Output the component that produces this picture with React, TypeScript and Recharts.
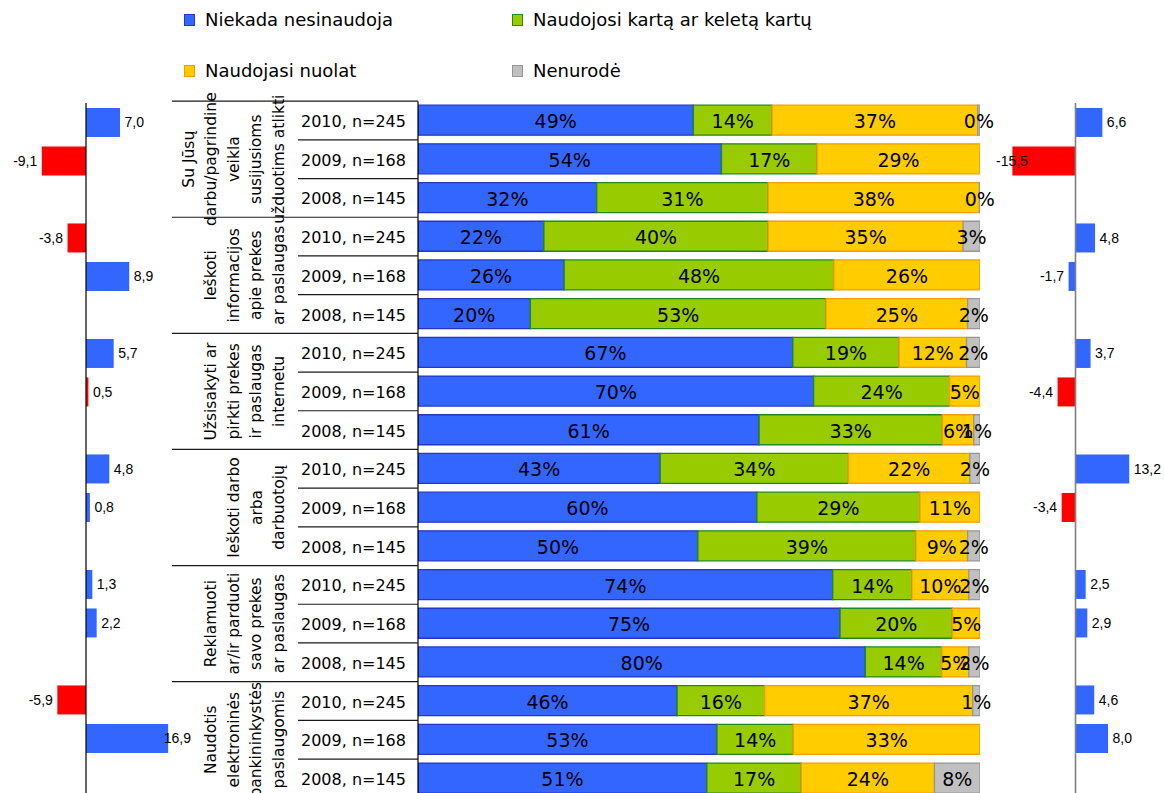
import React from 'react';
import { BarChart, Bar, XAxis, YAxis, LabelList, Cell, ReferenceLine } from 'recharts';

// ---------- DATA ----------
const groupLabels: string[][] = [
  ['Su Jūsų', 'darbu/pagrindine', 'veikla', 'susijusioms', 'užduotims atlikti'],
  ['Ieškoti', 'informacijos', 'apie prekes', 'ar paslaugas'],
  ['Užsisakyti ar', 'pirkti prekes', 'ir paslaugas', 'internetu'],
  ['Ieškoti darbo', 'arba', 'darbuotojų'],
  ['Reklamuoti', 'ar/ir parduoti', 'savo prekes', 'ar paslaugas'],
  ['Naudotis', 'elektroninės', 'bankininkystės', 'paslaugomis'],
];
const yearLabels = ['2010, n=245', '2009, n=168', '2008, n=145'];

const seriesNames = ['Niekada nesinaudoja', 'Naudojosi kartą ar keletą kartų', 'Naudojasi nuolat', 'Nenurodė'];

const neverUsed = [49, 54, 31.8, 22.4, 26, 20, 66.7, 70.4, 60.7, 43.1, 60.3, 49.8, 73.8, 75.1, 79.6, 46.1, 53.2, 51.4];
const usedOnce = [14, 17, 30.5, 39.9, 48, 52.6, 18.9, 24.2, 32.6, 33.5, 29.0, 38.8, 14.1, 20.0, 13.6, 15.6, 13.6, 16.8];
const usedConstantly = [36.6, 29, 37.6, 34.7, 26, 25.2, 12.0, 5.4, 5.6, 21.6, 10.7, 9.2, 10.1, 4.9, 4.8, 37.0, 33.2, 23.7];
const notSpecified: (number | null)[] = [0.4, null, 0.1, 3.0, null, 2.2, 2.4, null, 1.1, 1.8, null, 2.2, 2.0, null, 2.0, 1.3, null, 8.1];

const leftChange: (number | null)[] = [7.0, -9.1, null, -3.8, 8.9, null, 5.7, 0.5, null, 4.8, 0.8, null, 1.3, 2.2, null, -5.9, 16.9, null];
const leftFlag: boolean[] = [false, true, false, true, false, false, false, true, false, false, false, false, false, false, false, true, false, false];
const rightChange: (number | null)[] = [6.6, -15.5, null, 4.8, -1.7, null, 3.7, -4.4, null, 13.2, -3.4, null, 2.5, 2.9, null, 4.6, 8.0, null];
const rightFlag: boolean[] = [false, true, false, false, false, false, false, true, false, false, true, false, false, false, false, false, false, false];

// ---------- BUILD ----------
const rowKeys = groupLabels.flatMap((_, gi) => yearLabels.map((__, yi) => `${gi}-${yi}`));
const mainData = rowKeys.map((key, i) => ({
  key,
  never: neverUsed[i],
  once: usedOnce[i],
  constant: usedConstantly[i],
  none: notSpecified[i],
}));
const leftData = rowKeys.map((key, i) => ({ key, v: leftChange[i] }));
const rightData = rowKeys.map((key, i) => ({ key, v: rightChange[i] }));

// ---------- STYLE ----------
const BLUE = '#3366ff';
const RED = '#ff0000';
const fills = ['#3366ff', '#99cc00', '#ffcc00', '#c0c0c0'];
const strokes = ['#2635c8', '#1f8a1f', '#ff9900', '#969696'];
const DEJAVU = '"DejaVu Sans", Verdana, sans-serif';
const ARIAL = '"Liberation Sans", Arial, sans-serif';

const MAIN_W = 860;
const MAIN_H = 800;
const MAIN_TOP = 101.15;
const ROWS = 18;
const MAIN_BAND = 38.7;
const MAIN_PLOT_H = ROWS * MAIN_BAND;

const SIDE_TOP = 102.95;
const SIDE_BAND = 38.5;
const SIDE_PLOT_H = ROWS * SIDE_BAND;

const MainLabel = (props: any) => {
  const { x, y, width, height, value } = props;
  if (value == null) return null;
  return (
    <text
      x={Number(x) + Number(width) / 2}
      y={Number(y) + Number(height) / 2 + 1}
      textAnchor="middle"
      dominantBaseline="central"
      fontSize={19}
      fontFamily={DEJAVU}
      fill="#000"
    >
      {Math.round(Number(value))}%
    </text>
  );
};

const FS_SIDE = 14;
const charW = (s: string) =>
  s.split('').reduce((a, c) => a + (c === ',' ? 0.278 : c === '-' ? 0.333 : 0.556), 0) * FS_SIDE;

const makeSideLabel = (minX: number, maxX: number) => (props: any) => {
  const { x, y, width, height, value } = props;
  if (value == null) return null;
  const v = Number(value);
  const x0 = Number(x);
  const w = Number(width);
  const left = Math.min(x0, x0 + w);
  const right = Math.max(x0, x0 + w);
  const text = v.toFixed(1).replace('.', ',');
  const tw = charW(text);
  const cy = Number(y) + Number(height) / 2;
  let tx: number;
  let anchor: 'start' | 'end';
  if (v >= 0) {
    tx = right + 4.5;
    anchor = 'start';
    if (tx + tw > maxX) {
      tx = maxX;
      anchor = 'end';
    }
  } else {
    tx = left - 4.5;
    anchor = 'end';
    if (tx - tw < minX) {
      tx = minX;
      anchor = 'start';
    }
  }
  return (
    <text x={tx} y={cy} textAnchor={anchor} dominantBaseline="central" fontSize={FS_SIDE} fontFamily={ARIAL} fill="#000">
      {text}
    </text>
  );
};

const TableTick = (props: any) => {
  const { x, y, index } = props;
  const xi = Number(x);
  const yi = Number(y);
  const gi = Math.floor(index / 3);
  const yr = index % 3;
  const groupStartX = xi - 246;
  const rowStartX = xi - 120;
  const els: React.ReactNode[] = [];
  if (index === 0) {
    els.push(<line key="top" x1={groupStartX} x2={xi} y1={yi - MAIN_BAND / 2} y2={yi - MAIN_BAND / 2} stroke="#1a1a1a" strokeWidth={1.2} />);
  }
  els.push(
    <line
      key="bot"
      x1={yr === 2 ? groupStartX : rowStartX}
      x2={xi}
      y1={yi + MAIN_BAND / 2}
      y2={yi + MAIN_BAND / 2}
      stroke="#1a1a1a"
      strokeWidth={1.2}
    />
  );
  els.push(
    <text key="yr" x={xi - 64.5} y={yi + 1} textAnchor="middle" dominantBaseline="central" fontSize={16} fontFamily={DEJAVU} fill="#000">
      {yearLabels[yr]}
    </text>
  );
  if (yr === 1) {
    const lines = groupLabels[gi];
    const n = lines.length;
    lines.forEach((ln, j) => {
      const lx = xi - 139 - (n - 1 - j) * 22.5;
      els.push(
        <text
          key={`g${j}`}
          x={lx}
          y={yi}
          transform={`rotate(-90 ${lx} ${yi})`}
          textAnchor="middle"
          dominantBaseline="central"
          fontSize={15.5}
          fontFamily={DEJAVU}
          fill="#000"
        >
          {ln}
        </text>
      );
    });
  }
  return <g>{els}</g>;
};

const LegendBox = ({ left, top, idx }: { left: number; top: number; idx: number }) => (
  <div style={{ position: 'absolute', left, top, display: 'flex', alignItems: 'center', whiteSpace: 'nowrap' }}>
    <div
      style={{
        width: 9,
        height: 10,
        background: fills[idx],
        border: `1.5px solid ${strokes[idx]}`,
        marginRight: 10,
      }}
    />
    <span style={{ fontFamily: DEJAVU, fontSize: 18, color: '#000', lineHeight: '22px' }}>{seriesNames[idx]}</span>
  </div>
);

export default function App() {
  return (
    <div style={{ position: 'absolute', left: 0, top: 0, width: 1164, height: 793, overflow: 'hidden', background: '#fff' }}>
      <LegendBox left={184} top={9} idx={0} />
      <LegendBox left={512} top={9} idx={1} />
      <LegendBox left={184} top={60} idx={2} />
      <LegendBox left={512} top={60} idx={3} />

      {/* Left change chart */}
      <div style={{ position: 'absolute', left: 0, top: 0 }}>
        <BarChart
          width={200}
          height={800}
          data={leftData}
          layout="vertical"
          margin={{ top: SIDE_TOP, right: 28, bottom: 800 - SIDE_TOP - SIDE_PLOT_H, left: 0 }}
          barSize={29}
        >
          <XAxis type="number" domain={[-17.7, 17.7]} allowDataOverflow hide />
          <YAxis type="category" dataKey="key" hide />
          <Bar dataKey="v" isAnimationActive={false}>
            {leftData.map((d, i) => (
              <Cell key={d.key} fill={leftFlag[i] ? RED : BLUE} />
            ))}
            <LabelList dataKey="v" content={makeSideLabel(0, 191)} />
          </Bar>
          <ReferenceLine x={0} stroke="#000" strokeWidth={1.2} />
        </BarChart>
      </div>

      {/* Main stacked chart with table */}
      <div style={{ position: 'absolute', left: 160, top: 0 }}>
        <BarChart
          width={MAIN_W}
          height={MAIN_H}
          data={mainData}
          layout="vertical"
          margin={{ top: MAIN_TOP, right: MAIN_W - 820, bottom: MAIN_H - MAIN_TOP - MAIN_PLOT_H, left: 0 }}
          barSize={30}
        >
          <XAxis type="number" domain={[0, 100]} allowDataOverflow hide />
          <YAxis
            type="category"
            dataKey="key"
            width={258}
            interval={0}
            tickLine={false}
            tickSize={0}
            tickMargin={0}
            axisLine={{ stroke: '#000', strokeWidth: 1.2 }}
            tick={<TableTick />}
          />
          <Bar dataKey="never" stackId="s" fill={fills[0]} stroke={strokes[0]} strokeWidth={1.3} isAnimationActive={false}>
            <LabelList dataKey="never" content={MainLabel} />
          </Bar>
          <Bar dataKey="once" stackId="s" fill={fills[1]} stroke={strokes[1]} strokeWidth={1.3} isAnimationActive={false}>
            <LabelList dataKey="once" content={MainLabel} />
          </Bar>
          <Bar dataKey="constant" stackId="s" fill={fills[2]} stroke={strokes[2]} strokeWidth={1.3} isAnimationActive={false}>
            <LabelList dataKey="constant" content={MainLabel} />
          </Bar>
          <Bar dataKey="none" stackId="s" fill={fills[3]} stroke={strokes[3]} strokeWidth={1.3} isAnimationActive={false}>
            <LabelList dataKey="none" content={MainLabel} />
          </Bar>
        </BarChart>
      </div>

      {/* Right change chart */}
      <div style={{ position: 'absolute', left: 990, top: 0 }}>
        <BarChart
          width={174}
          height={800}
          data={rightData}
          layout="vertical"
          margin={{ top: SIDE_TOP, right: 3, bottom: 800 - SIDE_TOP - SIDE_PLOT_H, left: 0 }}
          barSize={29}
        >
          <XAxis type="number" domain={[-21, 21]} allowDataOverflow hide />
          <YAxis type="category" dataKey="key" hide />
          <Bar dataKey="v" isAnimationActive={false}>
            {rightData.map((d, i) => (
              <Cell key={d.key} fill={rightFlag[i] ? RED : BLUE} />
            ))}
            <LabelList dataKey="v" content={makeSideLabel(6, 174)} />
          </Bar>
          <ReferenceLine x={0} stroke="#808080" strokeWidth={1.6} />
        </BarChart>
      </div>
    </div>
  );
}
